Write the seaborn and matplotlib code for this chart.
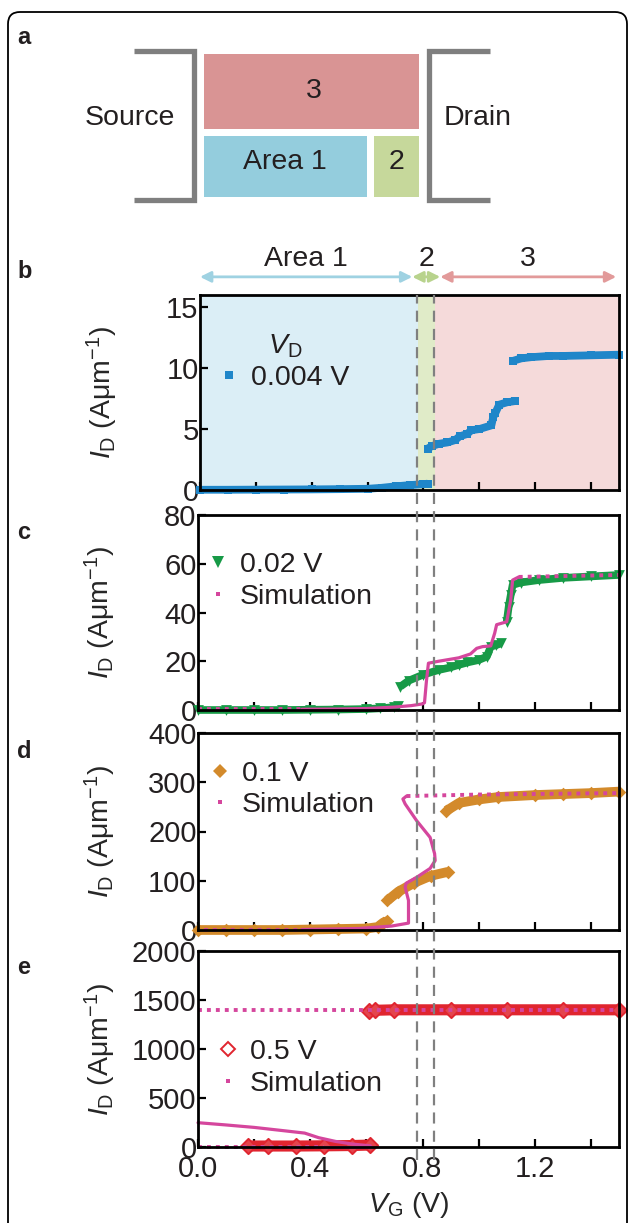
import numpy as np
import pandas as pd
import matplotlib
matplotlib.use("Agg")
import matplotlib.pyplot as plt
import matplotlib.transforms as mtransforms
from matplotlib.lines import Line2D
from matplotlib.patches import Rectangle, FancyBboxPatch
import seaborn as sns

# ---------------- data ----------------
region_names = ["Area 1", "2", "3"]
region_edges = [0.0, 0.78, 0.84, 1.5]
arrow_spans = [(0.0, 0.76), (0.76, 0.86), (0.86, 1.49)]

# panel b : VD = 0.004 V (measured, segments)
b_V = [[0.00, 0.10, 0.20, 0.30, 0.40, 0.50, 0.60, 0.65, 0.70, 0.75, 0.80, 0.815],
       [0.815, 0.83, 0.857, 0.886, 0.914, 0.929, 0.957, 0.971, 1.00, 1.043, 1.05, 1.057, 1.071, 1.10, 1.129],
       [1.121, 1.15, 1.186, 1.25, 1.30, 1.40, 1.50]]
b_I = [[0.02, 0.02, 0.03, 0.04, 0.05, 0.07, 0.10, 0.18, 0.30, 0.40, 0.48, 0.52],
       [3.4, 3.6, 3.8, 3.9, 4.1, 4.4, 4.6, 4.9, 5.0, 5.3, 6.0, 6.3, 7.0, 7.2, 7.3],
       [10.6, 10.8, 10.9, 11.0, 11.0, 11.05, 11.1]]

# panel c : VD = 0.02 V
c_V = [[0.0, 0.1, 0.2, 0.3, 0.4, 0.5, 0.6, 0.65, 0.7, 0.714],
       [0.721, 0.75, 0.80, 0.857, 0.90, 0.929, 0.96, 1.0, 1.029, 1.043, 1.06, 1.079],
       [1.10, 1.107, 1.114, 1.121, 1.15, 1.214, 1.30, 1.40, 1.50]]
c_I = [[0.0, 0.0, 0.0, 0.0, 0.1, 0.2, 0.4, 0.7, 1.2, 1.5],
       [9.6, 12.0, 14.4, 16.4, 17.5, 18.5, 19.5, 20.5, 21.9, 26.0, 26.5, 27.3],
       [36.2, 42.4, 47.0, 51.3, 52.3, 53.3, 54.2, 54.8, 55.4]]
c_sim_solid_V = [0.37, 0.5, 0.6, 0.7, 0.76, 0.80, 0.807, 0.814, 0.821, 0.857, 0.929, 0.971,
                 0.993, 1.014, 1.043, 1.057, 1.064, 1.10, 1.114, 1.121, 1.143]
c_sim_solid_I = [0.3, 0.4, 0.6, 1.2, 1.8, 2.5, 3.0, 12.0, 19.2, 20.0, 21.4, 23.0,
                 25.3, 26.0, 26.3, 31.5, 35.0, 36.2, 45.0, 53.3, 54.6]
c_sim_dot_V = [[0.0, 0.37], [1.143, 1.5]]
c_sim_dot_I = [[0.3, 0.3], [54.6, 55.4]]

# panel d : VD = 0.1 V
d_V = [[0.0, 0.1, 0.2, 0.3, 0.4, 0.5, 0.6, 0.64, 0.66, 0.675],
       [0.675, 0.714, 0.771, 0.829, 0.89],
       [0.885, 0.93, 1.0, 1.07, 1.2, 1.3, 1.4, 1.5]]
d_I = [[0.0, 0.0, 0.0, 0.0, 1.0, 2.0, 3.0, 6.0, 15.0, 18.0],
       [60.0, 78.0, 96.0, 110.0, 118.0],
       [242.0, 258.0, 265.0, 270.0, 274.0, 276.0, 278.0, 281.0]]
d_sim_solid_V = [0.37, 0.571, 0.69, 0.75, 0.75, 0.738, 0.742, 0.779, 0.827, 0.845, 0.843,
                 0.827, 0.779, 0.738, 0.730, 0.743]
d_sim_solid_I = [1.0, 3.0, 8.0, 14.0, 60.0, 87.0, 95.0, 107.0, 125.0, 141.0, 155.0,
                 188.0, 222.0, 256.0, 266.0, 272.0]
d_sim_dot_V = [[0.02, 0.37], [0.743, 1.0, 1.5]]
d_sim_dot_I = [[1.0, 1.0], [272.0, 275.0, 278.0]]

# panel e : VD = 0.5 V
e_V = [[0.179, 0.25, 0.35, 0.45, 0.55, 0.614],
       [0.61, 0.63, 0.7, 0.9, 1.1, 1.3, 1.5]]
e_I = [[10.0, 10.0, 10.0, 12.0, 15.0, 20.0],
       [1385.0, 1395.0, 1400.0, 1400.0, 1400.0, 1400.0, 1400.0]]
e_sim_solid_V = [[0.0, 0.1, 0.2, 0.3, 0.38, 0.43, 0.49, 0.55, 0.614], [0.45, 0.62]]
e_sim_solid_I = [[248.0, 225.0, 200.0, 168.0, 142.0, 95.0, 57.0, 30.0, 12.0], [5.0, 5.0]]
e_sim_dot_V = [[0.0, 1.5], [0.0, 0.45]]
e_sim_dot_I = [[1400.0, 1400.0], [2.0, 2.0]]

vd_labels = ["0.004 V", "0.02 V", "0.1 V", "0.5 V"]
sim_label = "Simulation"
x_ticks = [0.0, 0.4, 0.8, 1.2]
x_minor = [0.2, 0.6, 1.0, 1.4]
y_ticks = {"b": [0, 5, 10, 15], "c": [0, 20, 40, 60, 80],
           "d": [0, 100, 200, 300, 400], "e": [0, 500, 1000, 1500, 2000]}
y_lims = {"b": (0, 16), "c": (0, 80), "d": (0, 400), "e": (0, 2000)}

# ---------------- style ----------------
sns.set_theme(style="ticks")
plt.rcParams["font.family"] = ["Liberation Sans", "DejaVu Sans"]
plt.rcParams["mathtext.fontset"] = "custom"
plt.rcParams["mathtext.rm"] = "Liberation Sans"
plt.rcParams["mathtext.it"] = "Liberation Sans:italic"
plt.rcParams["mathtext.bf"] = "Liberation Sans:bold"
TXT = "#231f20"
plt.rcParams["text.color"] = TXT
FS = 20.5
FS_TICK = 21

BLUE = "#1f86c9"
GREEN = "#179a47"
ORANGE = "#d38a2b"
RED = "#e0252f"
MAG = "#d5469d"
GREY = "#808080"

W, H = 629, 1223
fig = plt.figure(figsize=(W / 100, H / 100), dpi=100)


def seg_frame(Vs, Is):
    rows = []
    for k, (vv, ii) in enumerate(zip(Vs, Is)):
        for v, i in zip(vv, ii):
            rows.append((k, v, i))
    return pd.DataFrame(rows, columns=["seg", "V", "I"])


def axes_px(top, bottom, left=200, right=619):
    return fig.add_axes([left / W, 1 - bottom / H, (right - left) / W, (bottom - top) / H])


# ---------------- panel a (schematic) ----------------
ax_a = fig.add_axes([0, 1 - 230 / H, 1, 230 / H])
ax_a.set_xlim(0, W)
ax_a.set_ylim(230, 0)
ax_a.axis("off")
ax_a.add_patch(Rectangle((204, 54), 215, 75, color="#d99494", lw=0))
ax_a.add_patch(Rectangle((204, 136), 163, 61, color="#94cddd", lw=0))
ax_a.add_patch(Rectangle((374, 136), 45, 61, color="#c6d89b", lw=0))
ax_a.plot([134, 194, 194, 134], [51, 51, 200, 200], color="#7f7f7f", lw=3.8,
          solid_joinstyle="miter", solid_capstyle="butt")
ax_a.plot([490, 429, 429, 490], [51, 51, 200, 200], color="#7f7f7f", lw=3.8,
          solid_joinstyle="miter", solid_capstyle="butt")
ax_a.text(130, 118, "Source", ha="center", va="center", fontsize=FS)
ax_a.text(478, 118, "Drain", ha="center", va="center", fontsize=FS)
ax_a.text(314, 91, "3", ha="center", va="center", fontsize=FS)
ax_a.text(285, 162, "Area 1", ha="center", va="center", fontsize=FS)
ax_a.text(397, 162, "2", ha="center", va="center", fontsize=FS)

# ---------------- data panels ----------------
ax_b = axes_px(295, 490)
ax_c = axes_px(515, 710, left=198)
ax_d = axes_px(733, 930, left=198)
ax_e = axes_px(951, 1147, left=198)
axes = {"b": ax_b, "c": ax_c, "d": ax_d, "e": ax_e}

# shaded regions in b
shade_cols = ["#dbeef6", "#e0ebc8", "#f5dada"]
for k in range(3):
    ax_b.axvspan(region_edges[k], region_edges[k + 1], color=shade_cols[k], lw=0, zorder=0)

# arrows + labels above b
arrow_cols = ["#9fd2e2", "#b8d38d", "#e29a9a"]
blend_b = mtransforms.blended_transform_factory(ax_b.transData, ax_b.transAxes)
for (x0, x1), name, col in zip(arrow_spans, region_names, arrow_cols):
    ax_b.annotate("", xy=(x1, 1.093), xytext=(x0, 1.093), xycoords=blend_b, textcoords=blend_b,
                  arrowprops=dict(arrowstyle="<|-|>", color=col, lw=2.0, mutation_scale=16,
                                  shrinkA=0, shrinkB=0), annotation_clip=False)
    ax_b.text((x0 + x1) / 2, 1.12, name, transform=blend_b, ha="center", va="bottom",
              fontsize=FS, clip_on=False)


def measured(ax, Vs, Is, color, marker, s, lw, face=None):
    df = seg_frame(Vs, Is)
    sns.lineplot(data=df, x="V", y="I", units="seg", estimator=None, sort=False, ax=ax,
                 color=color, lw=lw, legend=False, solid_capstyle="butt", clip_on=False, zorder=3)
    if face is None:
        sns.scatterplot(data=df, x="V", y="I", marker=marker, s=s, color=color, linewidth=0,
                        ax=ax, legend=False, clip_on=False, zorder=3)
    else:
        sns.scatterplot(data=df, x="V", y="I", marker=marker, s=s, facecolor=face,
                        edgecolor=color, linewidth=1.4, ax=ax, legend=False, clip_on=False, zorder=3)


def sim_solid(ax, Vs, Is):
    df = seg_frame(Vs, Is)
    sns.lineplot(data=df, x="V", y="I", units="seg", estimator=None, sort=False, ax=ax,
                 color=MAG, lw=2.3, legend=False, clip_on=False, zorder=4)


def sim_dotted(ax, Vs, Is):
    df = seg_frame(Vs, Is)
    sns.lineplot(data=df, x="V", y="I", units="seg", estimator=None, sort=False, ax=ax,
                 color=MAG, lw=2.8, linestyle=(0, (1.0, 1.3)), legend=False, clip_on=False, zorder=4)


measured(ax_b, b_V, b_I, BLUE, "s", 34, 5.6)
measured(ax_c, c_V, c_I, GREEN, "v", 60, 5.5)
sim_dotted(ax_c, c_sim_dot_V, c_sim_dot_I)
sim_solid(ax_c, [c_sim_solid_V], [c_sim_solid_I])
measured(ax_d, d_V, d_I, ORANGE, "D", 48, 7.0)
sim_dotted(ax_d, d_sim_dot_V, d_sim_dot_I)
sim_solid(ax_d, [d_sim_solid_V], [d_sim_solid_I])
measured(ax_e, e_V, e_I, RED, "D", 60, 8.0, face="#e4454d")
sim_dotted(ax_e, e_sim_dot_V, e_sim_dot_I)
sim_solid(ax_e, e_sim_solid_V, e_sim_solid_I)

ylabel = "$I_{\\mathrm{D}}$ (Aμm$^{\\mathrm{-1}}$)"
for key, ax in axes.items():
    ax.set_xlim(0, 1.5)
    ax.set_ylim(*y_lims[key])
    ax.set_yticks(y_ticks[key])
    ax.set_yticklabels([str(t) for t in y_ticks[key]])
    ax.set_xticks(x_ticks)
    ax.set_xticks(x_minor, minor=True)
    ax.tick_params(axis="both", which="both", direction="in", length=6, width=1.6,
                   colors="black", labelcolor=TXT, labelsize=FS_TICK)
    ax.tick_params(axis="y", pad=1)
    ax.tick_params(axis="x", pad=6)
    for sp in ax.spines.values():
        sp.set_linewidth(2.0)
        sp.set_color("black")
        sp.set_zorder(6)
    ax.set_ylabel(ylabel, fontsize=FS)
    ax.yaxis.set_label_coords(-0.19, 0.5)
    ax.set_facecolor("none")
    if key != "e":
        ax.set_xlabel("")
        ax.tick_params(axis="x", labelbottom=False)
    else:
        ax.set_xticklabels(["0.0", "0.4", "0.8", "1.2"])
        ax.set_xlabel("$V_{\\mathrm{G}}$ (V)", fontsize=FS, labelpad=5)

# legends
leg_kw = dict(frameon=False, fontsize=FS, borderpad=0, handlelength=0.6, handletextpad=0.45,
              labelspacing=0.2, borderaxespad=0)
h_b = Line2D([], [], ls="none", marker="s", markersize=6, color=BLUE, markeredgewidth=0)
h_c = Line2D([], [], ls="none", marker="v", markersize=8, color=GREEN, markeredgewidth=0)
h_d = Line2D([], [], ls="none", marker="D", markersize=7.5, color=ORANGE, markeredgewidth=0)
h_e = Line2D([], [], ls="none", marker="D", markersize=7, markerfacecolor="white",
             markeredgecolor=RED, markeredgewidth=1.4)
h_sim = Line2D([], [], ls="none", marker="s", markersize=3.4, color=MAG, markeredgewidth=0)

lb = ax_b.legend([h_b], [vd_labels[0]], loc="upper left", bbox_to_anchor=(0.05, 0.81),
                 title="$V_{\\mathrm{D}}$", title_fontsize=FS, **leg_kw)
lb.get_title().set_color(TXT)
ax_c.legend([h_c, h_sim], [vd_labels[1], sim_label], loc="upper left",
            bbox_to_anchor=(0.028, 0.81), **leg_kw)
ax_d.legend([h_d, h_sim], [vd_labels[2], sim_label], loc="upper left",
            bbox_to_anchor=(0.033, 0.86), **leg_kw)
ax_e.legend([h_e, h_sim], [vd_labels[3], sim_label], loc="upper left",
            bbox_to_anchor=(0.052, 0.55), **leg_kw)

# dashed boundary lines through all panels
blend_f = mtransforms.blended_transform_factory(ax_e.transData, fig.transFigure)
for v in region_edges[1:3]:
    ln = Line2D([v, v], [1 - 1160 / H, 1 - 295 / H], transform=blend_f, color=GREY,
                lw=1.6, dashes=(5, 3.2), zorder=10)
    fig.add_artist(ln)

# panel letters
for letter, y in zip("abcde", [38, 272, 533, 752, 968]):
    fig.text(17 / W, 1 - y / H, letter, fontsize=17, fontweight="bold", va="center",
             ha="left", color=TXT)

# outer rounded frame
frame = FancyBboxPatch((0.08, -1.0), 6.19, 13.11, boxstyle="round,pad=0,rounding_size=0.12",
                       transform=fig.dpi_scale_trans, fill=False, ec="black", lw=1.3)
fig.add_artist(frame)

fig.savefig("out.png", dpi=100, facecolor="white")
